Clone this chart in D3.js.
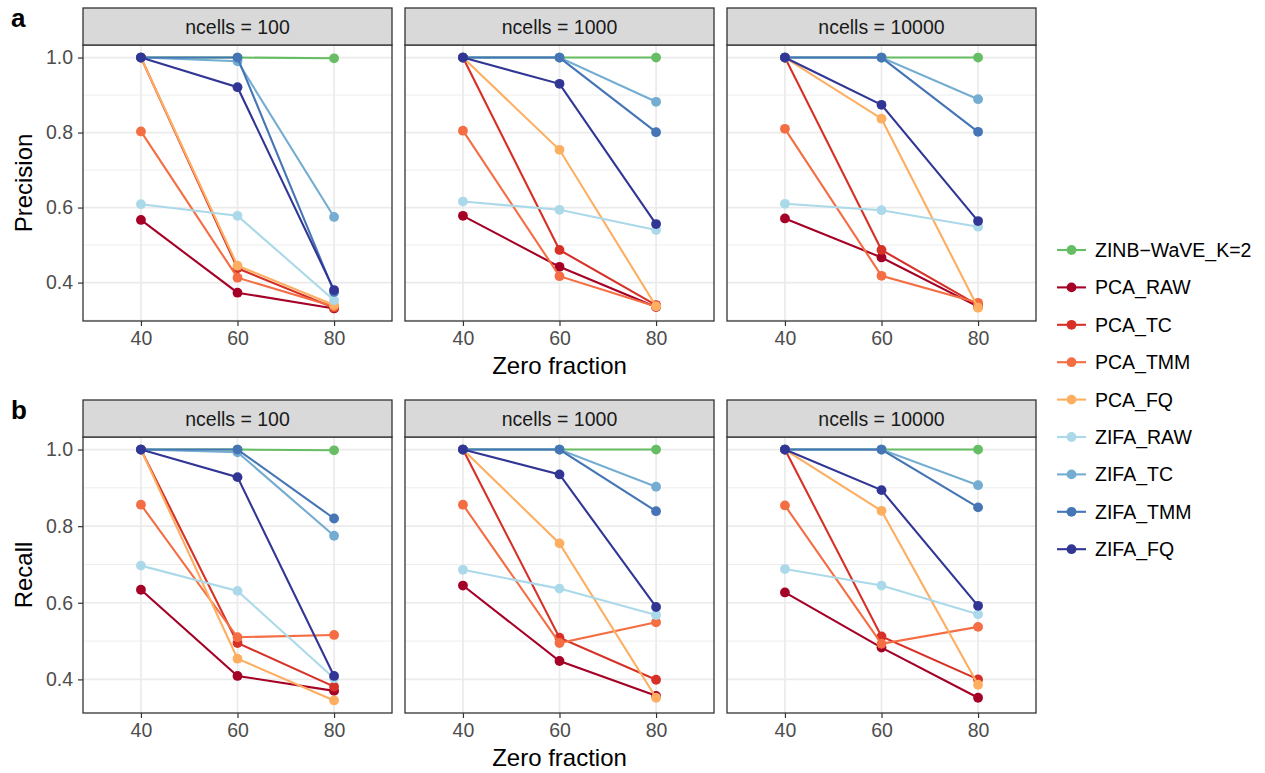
<!DOCTYPE html>
<html>
<head>
<meta charset="utf-8">
<script src="https://cdn.jsdelivr.net/npm/d3@7"></script>
<style>
  html, body { margin: 0; padding: 0; background: #ffffff; }
  svg { display: block; font-family: "Liberation Sans", Arial, Helvetica, sans-serif; }
</style>
</head>
<body>
<script>
// ---------- data ----------
const methods = ["ZINB\u2212WaVE_K=2", "PCA_RAW", "PCA_TC", "PCA_TMM", "PCA_FQ",
                 "ZIFA_RAW", "ZIFA_TC", "ZIFA_TMM", "ZIFA_FQ"];
const methodColors = ["#66bd63", "#a50026", "#d73027", "#f46d43", "#fdae61",
                      "#abd9e9", "#74add1", "#4575b4", "#313695"];
const zeroFractions = [40, 60, 80];
const ncellsLevels = [100, 1000, 10000];
const yTicks = [0.4, 0.6, 0.8, 1.0];
const yMinor = [0.3, 0.5, 0.7, 0.9];

// rows follow `methods` order; columns follow zeroFractions (40, 60, 80)
const precision100 = [
  [1.000, 1.000, 0.998], [0.567, 0.373, 0.331], [1.000, 0.438, 0.333],
  [0.803, 0.413, 0.336], [1.000, 0.445, 0.340], [0.609, 0.578, 0.353],
  [1.000, 0.990, 0.575], [1.000, 1.000, 0.375], [1.000, 0.921, 0.380]
];
const precision1000 = [
  [1.000, 1.000, 1.000], [0.578, 0.442, 0.335], [1.000, 0.487, 0.340],
  [0.805, 0.417, 0.336], [1.000, 0.754, 0.337], [0.616, 0.594, 0.540],
  [1.000, 1.000, 0.882], [1.000, 1.000, 0.801], [1.000, 0.930, 0.556]
];
const precision10000 = [
  [1.000, 1.000, 1.000], [0.571, 0.467, 0.336], [1.000, 0.487, 0.340],
  [0.810, 0.418, 0.346], [1.000, 0.837, 0.333], [0.610, 0.593, 0.549],
  [1.000, 1.000, 0.889], [1.000, 1.000, 0.802], [1.000, 0.874, 0.564]
];
const recall100 = [
  [1.000, 1.000, 0.998], [0.634, 0.409, 0.370], [1.000, 0.495, 0.381],
  [0.856, 0.510, 0.516], [1.000, 0.454, 0.345], [0.697, 0.631, 0.403],
  [1.000, 0.993, 0.775], [1.000, 1.000, 0.820], [1.000, 0.928, 0.409]
];
const recall1000 = [
  [1.000, 1.000, 1.000], [0.645, 0.448, 0.357], [1.000, 0.509, 0.399],
  [0.856, 0.495, 0.549], [1.000, 0.755, 0.352], [0.686, 0.637, 0.568],
  [1.000, 1.000, 0.903], [1.000, 1.000, 0.839], [1.000, 0.935, 0.589]
];
const recall10000 = [
  [1.000, 1.000, 1.000], [0.627, 0.483, 0.352], [1.000, 0.512, 0.400],
  [0.854, 0.493, 0.537], [1.000, 0.840, 0.386], [0.688, 0.645, 0.570],
  [1.000, 1.000, 0.907], [1.000, 1.000, 0.849], [1.000, 0.894, 0.592]
];

// ---------- layout ----------
const W = 1265, H = 773;
const FONT_TICK = 19.5, FONT_TITLE = 24, FONT_STRIP = 19.5, FONT_LEGEND = 19.5;
const panelsX = [[83, 392], [405, 714], [727, 1036]];
const rows = [
  { tag: "a", title: "Precision", data: [precision100, precision1000, precision10000],
    stripTop: 8, top: 45, bottom: 321 },
  { tag: "b", title: "Recall", data: [recall100, recall1000, recall10000],
    stripTop: 400, top: 437, bottom: 713 }
];

const svg = d3.select("body").append("svg")
  .attr("width", W).attr("height", H)
  .attr("viewBox", `0 0 ${W} ${H}`);
svg.append("rect").attr("width", W).attr("height", H).attr("fill", "#ffffff");

rows.forEach(row => {
  const all = row.data.flat(2);
  const lo0 = d3.min(all), hi0 = d3.max(all);
  const pad = (hi0 - lo0) * 0.05;
  const y = d3.scaleLinear().domain([lo0 - pad, hi0 + pad]).range([row.bottom, row.top]);

  row.data.forEach((panelData, pi) => {
    const [x0, x1] = panelsX[pi];
    const x = d3.scalePoint().domain(zeroFractions).range([x0, x1]).padding(0.6);
    const g = svg.append("g");

    g.append("rect").attr("x", x0).attr("y", row.top)
      .attr("width", x1 - x0).attr("height", row.bottom - row.top).attr("fill", "#ffffff");

    g.selectAll(".minor").data(yMinor.filter(v => v > y.domain()[0] && v < y.domain()[1]))
      .join("line")
      .attr("x1", x0).attr("x2", x1)
      .attr("y1", d => y(d)).attr("y2", d => y(d))
      .attr("stroke", "#ebebeb").attr("stroke-width", 0.9);
    g.selectAll(".majorY").data(yTicks).join("line")
      .attr("x1", x0).attr("x2", x1)
      .attr("y1", d => y(d)).attr("y2", d => y(d))
      .attr("stroke", "#ebebeb").attr("stroke-width", 1.7);
    g.selectAll(".majorX").data(zeroFractions).join("line")
      .attr("x1", d => x(d)).attr("x2", d => x(d))
      .attr("y1", row.top).attr("y2", row.bottom)
      .attr("stroke", "#ebebeb").attr("stroke-width", 1.7);

    const line = d3.line().x((d, i) => x(zeroFractions[i])).y(d => y(d));
    panelData.forEach((vals, mi) => {
      g.append("path").datum(vals)
        .attr("d", line).attr("fill", "none")
        .attr("stroke", methodColors[mi]).attr("stroke-width", 2.1);
      g.selectAll(null).data(vals).join("circle")
        .attr("cx", (d, i) => x(zeroFractions[i])).attr("cy", d => y(d))
        .attr("r", 4.9).attr("fill", methodColors[mi]);
    });

    g.append("rect").attr("x", x0).attr("y", row.top)
      .attr("width", x1 - x0).attr("height", row.bottom - row.top)
      .attr("fill", "none").attr("stroke", "#333333").attr("stroke-width", 1.3);

    g.append("rect").attr("x", x0).attr("y", row.stripTop)
      .attr("width", x1 - x0).attr("height", row.top - row.stripTop)
      .attr("fill", "#d9d9d9").attr("stroke", "#333333").attr("stroke-width", 1.3);
    g.append("text")
      .attr("x", (x0 + x1) / 2).attr("y", (row.stripTop + row.top) / 2)
      .attr("dy", "0.36em").attr("text-anchor", "middle")
      .attr("font-size", FONT_STRIP).attr("fill", "#1a1a1a")
      .text(`ncells = ${ncellsLevels[pi]}`);

    const xa = g.append("g").attr("transform", `translate(0,${row.bottom})`)
      .call(d3.axisBottom(x).tickSize(5).tickPadding(5));
    xa.select(".domain").remove();
    xa.selectAll("line").attr("stroke", "#333333").attr("stroke-width", 1.2);
    xa.selectAll("text").attr("font-size", FONT_TICK).attr("fill", "#4d4d4d")
      .attr("font-family", "Liberation Sans, Arial, sans-serif");

    if (pi === 0) {
      const ya = g.append("g").attr("transform", `translate(${x0},0)`)
        .call(d3.axisLeft(y).tickValues(yTicks).tickFormat(d3.format(".1f")).tickSize(5).tickPadding(5));
      ya.select(".domain").remove();
      ya.selectAll("line").attr("stroke", "#333333").attr("stroke-width", 1.2);
      ya.selectAll("text").attr("font-size", FONT_TICK).attr("fill", "#4d4d4d")
        .attr("font-family", "Liberation Sans, Arial, sans-serif");
    }
  });

  svg.append("text")
    .attr("x", (panelsX[0][0] + panelsX[2][1]) / 2).attr("y", row.bottom + 53)
    .attr("text-anchor", "middle").attr("font-size", FONT_TITLE).attr("fill", "#000")
    .text("Zero fraction");
  svg.append("text")
    .attr("transform", `translate(32,${(row.top + row.bottom) / 2}) rotate(-90)`)
    .attr("text-anchor", "middle").attr("font-size", FONT_TITLE).attr("fill", "#000")
    .text(row.title);
  svg.append("text")
    .attr("x", 11).attr("y", row.stripTop + 19)
    .attr("font-size", 26).attr("font-weight", "bold").attr("fill", "#000")
    .text(row.tag);
});

// ---------- legend ----------
const legend = svg.append("g");
const legY0 = 250, legStep = 37.4;
methods.forEach((m, i) => {
  const yy = legY0 + i * legStep;
  legend.append("line").attr("x1", 1057).attr("x2", 1086).attr("y1", yy).attr("y2", yy)
    .attr("stroke", methodColors[i]).attr("stroke-width", 2.1);
  legend.append("circle").attr("cx", 1071.5).attr("cy", yy).attr("r", 4.9)
    .attr("fill", methodColors[i]);
  legend.append("text").attr("x", 1095).attr("y", yy).attr("dy", "0.36em")
    .attr("font-size", FONT_LEGEND).attr("fill", "#000").text(m);
});
</script>
</body>
</html>
